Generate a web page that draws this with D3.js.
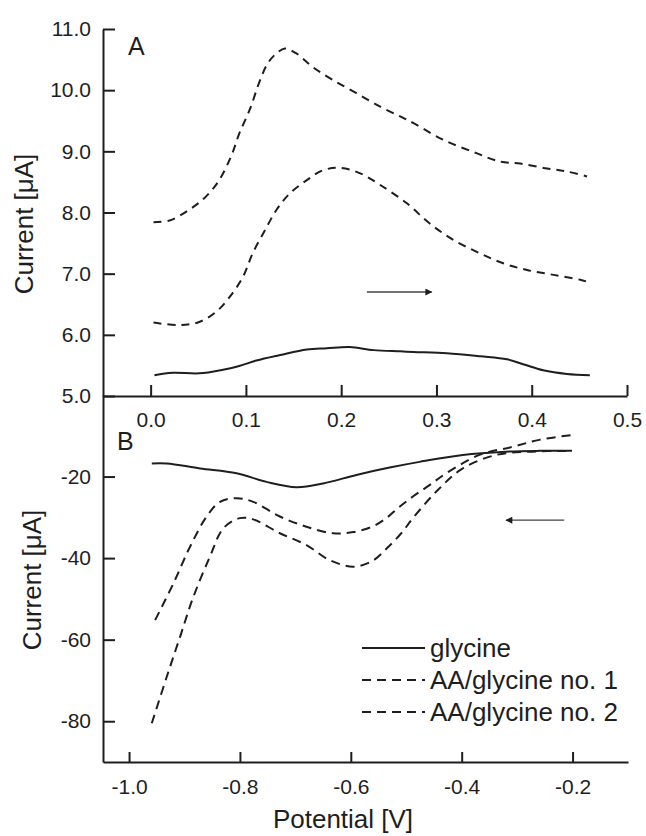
<!DOCTYPE html>
<html>
<head>
<meta charset="utf-8">
<script src="https://cdn.jsdelivr.net/npm/d3@7"></script>
<style>
  body { margin: 0; background: #fff; }
  svg text { font-family: "Liberation Sans", Arial, sans-serif; fill: #1e1e1e; }
</style>
</head>
<body>
<div id="chart"></div>
<script>
const WIDTH = 646;
const HEIGHT = 836;
const INK = "#1e1e1e";

// panel A (anodic sweep) - [potential V, current uA]
const topGlycine = [[0.004, 5.34], [0.023, 5.38], [0.051, 5.37], [0.076, 5.43], [0.093, 5.49], [0.111, 5.58],
    [0.136, 5.67], [0.164, 5.76], [0.185, 5.78], [0.209, 5.80], [0.234, 5.75], [0.262, 5.73], [0.276, 5.72],
    [0.311, 5.70], [0.346, 5.65], [0.374, 5.60], [0.391, 5.52], [0.412, 5.42], [0.437, 5.36], [0.461, 5.34]];
const topAA1 = [[0.003, 7.84], [0.02, 7.87], [0.041, 8.05], [0.058, 8.26], [0.072, 8.53], [0.085, 8.94],
    [0.093, 9.29], [0.104, 9.68], [0.115, 10.17], [0.123, 10.44], [0.132, 10.60], [0.141, 10.68], [0.153, 10.60],
    [0.170, 10.38], [0.191, 10.17], [0.216, 9.95], [0.241, 9.73], [0.262, 9.57], [0.276, 9.46], [0.307, 9.19],
    [0.342, 8.97], [0.367, 8.83], [0.388, 8.80], [0.416, 8.72], [0.437, 8.67], [0.458, 8.59]];
const topAA2 = [[0.003, 6.20], [0.03, 6.16], [0.051, 6.21], [0.069, 6.38], [0.083, 6.62], [0.097, 6.95],
    [0.107, 7.33], [0.120, 7.71], [0.132, 8.04], [0.146, 8.31], [0.164, 8.53], [0.181, 8.69], [0.199, 8.73],
    [0.220, 8.64], [0.241, 8.45], [0.269, 8.15], [0.293, 7.82], [0.318, 7.55], [0.346, 7.33], [0.370, 7.17],
    [0.395, 7.06], [0.423, 6.98], [0.451, 6.90], [0.460, 6.86]];

// panel B (cathodic sweep)
const botGlycine = [[-0.959, -16.8], [-0.932, -16.8], [-0.872, -18.0], [-0.806, -19.2], [-0.752, -21.3],
    [-0.698, -22.6], [-0.650, -21.7], [-0.590, -19.6], [-0.530, -17.8], [-0.476, -16.4], [-0.398, -14.7],
    [-0.320, -13.9], [-0.260, -13.7], [-0.201, -13.7]];
const botAA1 = [[-0.953, -55.2], [-0.920, -46.2], [-0.890, -37.2], [-0.860, -29.8], [-0.836, -26.2],
    [-0.806, -25.3], [-0.776, -26.2], [-0.728, -29.8], [-0.680, -32.3], [-0.632, -33.9], [-0.595, -33.6],
    [-0.560, -32.2], [-0.536, -30.2], [-0.512, -27.4], [-0.488, -24.9], [-0.458, -22.1], [-0.428, -19.2],
    [-0.368, -14.7], [-0.308, -12.7], [-0.260, -11.0], [-0.201, -9.8]];
const botAA2 = [[-0.959, -80.5], [-0.932, -69.1], [-0.908, -59.3], [-0.884, -49.5], [-0.854, -39.6],
    [-0.830, -32.7], [-0.800, -30.2], [-0.776, -30.5], [-0.728, -33.9], [-0.680, -36.8], [-0.638, -40.5],
    [-0.595, -42.1], [-0.560, -40.6], [-0.535, -37.6], [-0.509, -33.9], [-0.488, -30.2], [-0.443, -23.3],
    [-0.398, -18.0], [-0.338, -14.7], [-0.278, -13.9], [-0.201, -13.7]];

const topXTicks = [0.0, 0.1, 0.2, 0.3, 0.4, 0.5];
const topYTicks = [5, 6, 7, 8, 9, 10, 11];
const botXTicks = [-1.0, -0.8, -0.6, -0.4, -0.2];
const botYTicks = [-20, -40, -60, -80];

const legendNames = ["glycine", "AA/glycine no. 1", "AA/glycine no. 2"];

// sweep direction arrows: [from, to] in data units
const topArrow = [[0.227, 6.70], [0.295, 6.70]];
const botArrow = [[-0.215, -30.7], [-0.320, -30.7]];

const svg = d3.select("#chart")
    .append("svg")
    .attr("width", WIDTH)
    .attr("height", HEIGHT);

svg.append("defs").append("marker")
    .attr("id", "head")
    .attr("viewBox", "0 0 10 10")
    .attr("refX", 9).attr("refY", 5)
    .attr("markerWidth", 14).attr("markerHeight", 7)
    .attr("markerUnits", "userSpaceOnUse")
    .attr("orient", "auto")
    .append("path")
    .attr("d", "M0,0L10,5L0,10Z")
    .attr("fill", INK);

const xTop = d3.scaleLinear().domain([-0.05, 0.5]).range([103, 627]);
const yTop = d3.scaleLinear().domain([5, 11]).range([396, 29]);
const xBot = d3.scaleLinear().domain([-1.047, -0.1]).range([103, 628]);
const yBot = d3.scaleLinear().domain([-90, 0]).range([762, 395]);

const fmt1 = d => d.toFixed(1);

function styleAxis(g) {
    g.selectAll("path, line").attr("stroke", INK).attr("stroke-width", 2);
    g.selectAll("text").attr("font-size", 21).attr("fill", INK)
        .attr("font-family", "'Liberation Sans', Arial, sans-serif");
}

// axes
svg.append("g")
    .attr("transform", `translate(0, ${yTop(5)})`)
    .call(d3.axisBottom(xTop).tickValues(topXTicks).tickFormat(fmt1).tickSize(-11).tickSizeOuter(0).tickPadding(16))
    .call(styleAxis);

svg.append("g")
    .attr("transform", `translate(${xTop(-0.05)}, 0)`)
    .call(d3.axisLeft(yTop).tickValues(topYTicks).tickFormat(fmt1).tickSize(-12).tickSizeOuter(0).tickPadding(12))
    .call(styleAxis);

svg.append("g")
    .attr("transform", `translate(0, ${yBot(-90)})`)
    .call(d3.axisBottom(xBot).tickValues(botXTicks).tickFormat(fmt1).tickSize(-10).tickSizeOuter(0).tickPadding(17))
    .call(styleAxis);

svg.append("g")
    .attr("transform", `translate(${xBot(-1.047)}, 0)`)
    .call(d3.axisLeft(yBot).tickValues(botYTicks).tickFormat(d => String(d)).tickSize(-12).tickSizeOuter(0).tickPadding(12))
    .call(styleAxis);

// axis titles and panel letters
svg.append("text")
    .attr("transform", `translate(33, 224) rotate(-90)`)
    .attr("text-anchor", "middle")
    .attr("font-size", 26)
    .text("Current [μA]");

svg.append("text")
    .attr("transform", `translate(41, 580) rotate(-90)`)
    .attr("text-anchor", "middle")
    .attr("font-size", 26)
    .text("Current [μA]");

svg.append("text")
    .attr("x", 343).attr("y", 828)
    .attr("text-anchor", "middle")
    .attr("font-size", 26)
    .text("Potential [V]");

svg.append("text").attr("x", 128).attr("y", 55).attr("font-size", 25).text("A");
svg.append("text").attr("x", 117).attr("y", 450).attr("font-size", 25).text("B");

// curves
const lineTop = d3.line().x(d => xTop(d[0])).y(d => yTop(d[1])).curve(d3.curveCatmullRom.alpha(0.5));
const lineBot = d3.line().x(d => xBot(d[0])).y(d => yBot(d[1])).curve(d3.curveCatmullRom.alpha(0.5));

const series = [
    { data: topGlycine, line: lineTop, dash: null },
    { data: topAA1, line: lineTop, dash: "8,6" },
    { data: topAA2, line: lineTop, dash: "8,6" },
    { data: botGlycine, line: lineBot, dash: null },
    { data: botAA1, line: lineBot, dash: "9,6" },
    { data: botAA2, line: lineBot, dash: "9,6" }
];

svg.append("g").selectAll("path")
    .data(series)
    .enter()
    .append("path")
    .attr("d", s => s.line(s.data))
    .attr("fill", "none")
    .attr("stroke", INK)
    .attr("stroke-width", 2)
    .attr("stroke-dasharray", s => s.dash);

// arrows
svg.append("line")
    .attr("x1", xTop(topArrow[0][0])).attr("y1", yTop(topArrow[0][1]))
    .attr("x2", xTop(topArrow[1][0])).attr("y2", yTop(topArrow[1][1]))
    .attr("stroke", "#444").attr("stroke-width", 1.3)
    .attr("marker-end", "url(#head)");

svg.append("line")
    .attr("x1", xBot(botArrow[0][0])).attr("y1", yBot(botArrow[0][1]))
    .attr("x2", xBot(botArrow[1][0])).attr("y2", yBot(botArrow[1][1]))
    .attr("stroke", "#444").attr("stroke-width", 1.3)
    .attr("marker-end", "url(#head)");

// legend
const legend = svg.append("g").attr("transform", "translate(362, 648)");
const rows = legend.selectAll("g")
    .data(legendNames)
    .enter()
    .append("g")
    .attr("transform", (d, i) => `translate(0, ${i * 32})`);

rows.append("line")
    .attr("x1", 0).attr("x2", 63)
    .attr("stroke", INK).attr("stroke-width", 2)
    .attr("stroke-dasharray", (d, i) => i === 0 ? null : "9,6");

rows.append("text")
    .attr("x", 68).attr("y", 9)
    .attr("font-size", 26)
    .text(d => d);
</script>
</body>
</html>
